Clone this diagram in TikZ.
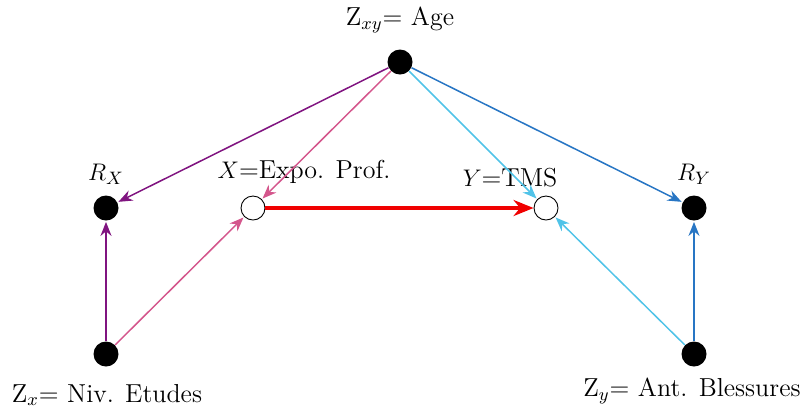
\documentclass[tikz,border=0pt]{standalone}
\usetikzlibrary{arrows.meta}
\definecolor{cpurple}{RGB}{128,20,128}
\definecolor{cpink}{RGB}{212,86,140}
\definecolor{ccyan}{RGB}{80,195,232}
\definecolor{cblue}{RGB}{40,118,196}
\definecolor{cred}{RGB}{240,0,0}
\begin{document}
\begin{tikzpicture}[x=0.5pt,y=-0.5pt,
  dot/.style={circle,fill=black,minimum size=12.5pt,inner sep=0pt},
  open/.style={circle,draw=black,fill=white,line width=0.45pt,minimum size=12pt,inner sep=0pt},
  lbl/.style={font=\fontsize{13}{16}\selectfont,inner sep=0pt},
  arr/.style={line width=0.75pt,-{Stealth[length=7pt,width=5.5pt]},shorten >=0.5pt},
]
\useasboundingbox (0,0) rectangle (806,409);
\node[dot] (zxy) at (400,62) {};
\node[dot] (rx) at (106,208) {};
\node[open] (x) at (253,208) {};
\node[open] (y) at (546,208) {};
\node[dot] (ry) at (694,208) {};
\node[dot] (zx) at (106,354) {};
\node[dot] (zy) at (694,354) {};

\node[lbl] (lzxy) at (400,20) {Z$_{xy}$= Age};
\node[lbl] (lrx) at (106,174) {$R_X$};
\node[lbl] (lx) at (304,172) {$X$=Expo. Prof.};
\node[lbl] (ly) at (510,178) {$Y$=TMS};
\node[lbl] (lry) at (694,174) {$R_Y$};
\node[lbl] (lzx) at (107,395) {Z$_{x}$= Niv. Etudes};
\node[lbl] (lzy) at (692,391) {Z$_{y}$= Ant. Blessures};

\draw[arr,cpurple] (zxy) -- (rx);
\draw[arr,cpink] (zxy) -- (x);
\draw[arr,ccyan] (zxy) -- (y);
\draw[arr,cblue] (zxy) -- (ry);
\draw[arr,cpurple] (zx) -- (rx);
\draw[arr,cpink] (zx) -- (x);
\draw[arr,ccyan] (zy) -- (y);
\draw[arr,cblue] (zy) -- (ry);
\draw[line width=1.8pt,cred,-{Stealth[length=10pt,width=8pt]}] (x) -- (y);
\end{tikzpicture}
\end{document}
